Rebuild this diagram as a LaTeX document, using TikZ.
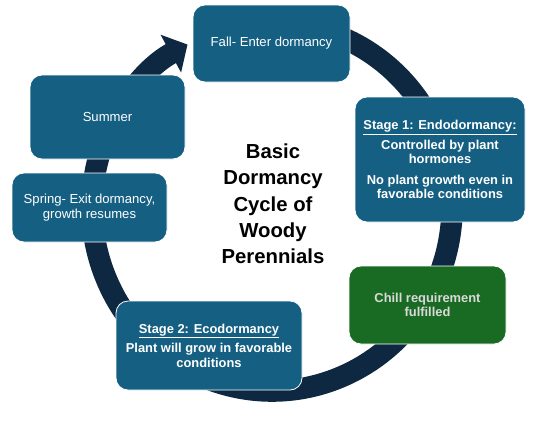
\documentclass[tikz,border=0pt]{standalone}
\usepackage{fontspec}
\setmainfont{Liberation Sans}
\usetikzlibrary{arrows.meta}
\definecolor{ringc}{HTML}{0E2841}
\definecolor{boxc}{HTML}{156082}
\definecolor{greenc}{HTML}{196B24}
\definecolor{chilltext}{HTML}{D9D9D9}
\begin{document}
\begin{tikzpicture}[x=1pt,y=-1pt,
  box/.style={draw=white, line width=0.8pt, fill=boxc, rounded corners=12pt,
    text=white, align=center, inner sep=0pt,
    font=\fontsize{13.1}{15.5}\selectfont},
  boldbox/.style={box, font=\bfseries\fontsize{12.9}{14.5}\selectfont},
  ring/.style={ringc, line width=21.5pt, -{Triangle[length=19pt,width=42pt]}},
  titletext/.style={font=\bfseries\fontsize{20.3}{26.3}\selectfont, align=center, text=black}
  ]
\useasboundingbox (0,0) rectangle (551,421);
\coordinate (c) at (272,207);
\draw[ring] (c) ++(-75:180 and 184)
  arc[start angle=-75, end angle=242, x radius=180, y radius=184];
\node[box, minimum width=157pt, minimum height=77pt] (fall) at (271.5,43.5) {Fall- Enter dormancy};
\node[boldbox, minimum width=170pt, minimum height=125pt] (endo) at (440,159.5)
  {\underline{Stage 1: Endodormancy:}\\[5pt] Controlled by plant\\ hormones\\[6pt] No plant growth even in\\ favorable conditions};
\node[boldbox, fill=greenc, text=chilltext, minimum width=157pt, minimum height=78pt] (chill) at (427.5,305)
  {Chill requirement\\ fulfilled};
\node[boldbox, minimum width=186pt, minimum height=89pt] (eco) at (209,345.5)
  {\underline{Stage 2: Ecodormancy}\\[5pt] Plant will grow in favorable\\ conditions};
\node[box, minimum width=155pt, minimum height=69pt] (spring) at (89.5,207.5)
  {Spring- Exit dormancy,\\ growth resumes};
\node[box, minimum width=155pt, minimum height=84pt] (summer) at (107.5,117) {Summer};
\node[titletext] (title) at (273,204) {Basic\\Dormancy\\Cycle of\\Woody\\Perennials};
\end{tikzpicture}
\end{document}
